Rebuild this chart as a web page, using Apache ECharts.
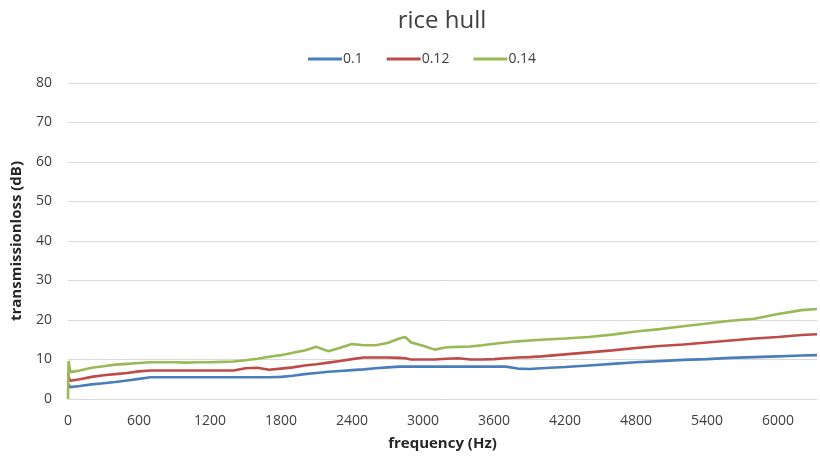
<!DOCTYPE html>
<html>
<head>
<meta charset="utf-8">
<script src="https://cdn.jsdelivr.net/npm/echarts@6/dist/echarts.min.js"></script>
<style>html,body{margin:0;padding:0;background:#fff;}#c{width:820px;height:459px;}</style>
</head>
<body>
<div id="c"></div>
<script>
var seriesNames = ['0.1', '0.12', '0.14'];
var freq = [0, 5, 20, 100, 200, 300, 400, 500, 600, 700, 800, 900, 1000, 1100, 1200, 1300, 1400, 1500, 1600, 1700,
            1800, 1900, 2000, 2100, 2200, 2300, 2400, 2500, 2600, 2700, 2800, 2850, 2900, 3000, 3100, 3200, 3300, 3400, 3500, 3600,
            3700, 3800, 3900, 4000, 4200, 4400, 4600, 4800, 5000, 5200, 5400, 5600, 5800, 6000, 6200, 6330];
var tl01  = [3.8, 3.4, 3.0, 3.3, 3.7, 4.0, 4.3, 4.7, 5.1, 5.5, 5.5, 5.5, 5.5, 5.5, 5.5, 5.5, 5.5, 5.5, 5.5, 5.5,
             5.6, 5.9, 6.3, 6.6, 6.9, 7.1, 7.3, 7.5, 7.8, 8.0, 8.2, 8.2, 8.2, 8.2, 8.2, 8.2, 8.2, 8.2, 8.2, 8.2,
             8.2, 7.7, 7.6, 7.8, 8.1, 8.5, 8.9, 9.3, 9.6, 9.9, 10.1, 10.4, 10.6, 10.8, 11.0, 11.1];
var tl012 = [6.5, 5.5, 4.6, 5.0, 5.6, 6.0, 6.3, 6.6, 7.0, 7.2, 7.2, 7.2, 7.2, 7.2, 7.2, 7.2, 7.2, 7.8, 7.9, 7.4,
             7.7, 8.0, 8.5, 8.8, 9.2, 9.6, 10.1, 10.5, 10.5, 10.5, 10.4, 10.3, 10.0, 10.0, 10.0, 10.2, 10.3, 10.0, 10.0, 10.1,
             10.3, 10.5, 10.6, 10.8, 11.3, 11.8, 12.3, 12.9, 13.4, 13.8, 14.3, 14.8, 15.3, 15.7, 16.2, 16.4];
var tl014 = [0.0, 9.6, 6.8, 7.2, 7.9, 8.3, 8.7, 8.9, 9.1, 9.3, 9.3, 9.3, 9.2, 9.3, 9.3, 9.4, 9.5, 9.8, 10.2, 10.7,
             11.1, 11.7, 12.3, 13.2, 12.1, 13.0, 13.9, 13.6, 13.6, 14.2, 15.3, 15.7, 14.3, 13.5, 12.5, 13.1, 13.2, 13.3, 13.6, 14.0,
             14.3, 14.6, 14.8, 15.0, 15.3, 15.7, 16.3, 17.1, 17.7, 18.4, 19.1, 19.8, 20.3, 21.5, 22.5, 22.8];
var colors = ['#4a7ebb', '#be4b48', '#98b954'];

function pairs(vals) { return freq.map(function (f, i) { return [f, vals[i]]; }); }
var allVals = [tl01, tl012, tl014];

var chart = echarts.init(document.getElementById('c'));
chart.setOption({
  animation: false,
  color: colors,
  title: {
    text: 'rice hull', left: 437, top: 4, textAlign: 'center',
    textStyle: { fontFamily: 'Open Sans', fontSize: 24, fontWeight: 'normal', color: '#404040' }
  },
  legend: {
    top: 47, left: 303, icon: 'rect', itemWidth: 34, itemHeight: 3, itemGap: 24,
    textStyle: { fontFamily: 'Open Sans', fontSize: 14, color: '#404040', padding: [0, 0, 0, -4] },
    data: seriesNames
  },
  grid: { left: 68, right: 0, top: 83, bottom: 60 },
  xAxis: {
    type: 'value', min: 0, max: 6330, interval: 600,
    name: 'frequency (Hz)', nameLocation: 'middle', nameGap: 37,
    nameTextStyle: { fontFamily: 'Open Sans', fontSize: 15, fontWeight: 'bold', color: '#262626' },
    axisLine: { show: true, lineStyle: { color: '#d9d9d9', width: 1 } },
    axisTick: { show: false },
    splitLine: { show: false },
    axisLabel: {
      fontFamily: 'Open Sans', fontSize: 14, color: '#404040', margin: 15,
      formatter: function (v) { return v % 600 === 0 ? String(v) : ''; }
    }
  },
  yAxis: {
    type: 'value', min: 0, max: 80, interval: 10,
    name: 'transmissionloss (dB)', nameLocation: 'middle', nameGap: 44,
    nameTextStyle: { fontFamily: 'Open Sans', fontSize: 15, fontWeight: 'bold', color: '#262626' },
    axisLine: { show: false }, axisTick: { show: false },
    splitLine: { lineStyle: { color: '#d9d9d9', width: 1 } },
    axisLabel: { fontFamily: 'Open Sans', fontSize: 14, color: '#404040', margin: 16 }
  },
  series: seriesNames.map(function (n, i) {
    return {
      name: n, type: 'line', data: pairs(allVals[i]), symbol: 'none',
      lineStyle: { width: 2.6, color: colors[i] }, itemStyle: { color: colors[i] }
    };
  })
});
</script>
</body>
</html>
